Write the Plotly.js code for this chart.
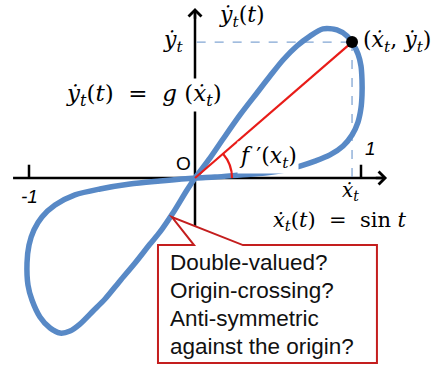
<!DOCTYPE html>
<html>
<head>
<meta charset="utf-8">
<script src="https://cdn.plot.ly/plotly-3.0.1.min.js"></script>
<style>
  html, body { margin: 0; padding: 0; background: #ffffff; }
  #chart { width: 436px; height: 367px; }
</style>
</head>
<body>
<div id="chart"></div>
<script>
// Figure-eight trajectory of (x-dot, y-dot): right lobe first, then the left lobe
const curveX = [
  0, 0.090, 0.169, 0.271, 0.373, 0.452, 0.530, 0.614, 0.693, 0.771, 0.855, 0.916, 0.952,
  0.982, 1.000, 1.006, 1.006, 1.000, 0.982, 0.946, 0.892, 0.813, 0.723, 0.633, 0.542,
  0.422, 0.271, 0.120, 0,
  -0.211, -0.392, -0.572, -0.723, -0.843, -0.922, -0.970, -1.000, -1.012, -1.006, -0.982,
  -0.934, -0.873, -0.813, -0.753, -0.693, -0.614, -0.542, -0.452, -0.361, -0.271, -0.211,
  -0.133, -0.048, 0
];
const curveY = [
  0, 0.120, 0.235, 0.380, 0.512, 0.614, 0.711, 0.795, 0.855, 0.898, 0.892, 0.855, 0.807,
  0.747, 0.675, 0.590, 0.500, 0.422, 0.337, 0.259, 0.193, 0.139, 0.102, 0.072, 0.048,
  0.030, 0.018, 0.006, 0,
  -0.018, -0.036, -0.066, -0.102, -0.163, -0.235, -0.313, -0.404, -0.512, -0.645, -0.735,
  -0.837, -0.904, -0.934, -0.922, -0.880, -0.801, -0.729, -0.620, -0.512, -0.398, -0.325,
  -0.211, -0.072, 0
];

// The highlighted state (x-dot_t, y-dot_t) on the loop
const pointX = [0.946];
const pointY = [0.819];

// Axis ticks
const tickVals = [-1, 1];
const tickLabels = ['-1', '1'];

// Callout text
const calloutLines = ['Double-valued?', 'Origin-crossing?', 'Anti-symmetric', 'against the origin?'];

const BLUE = 'rgb(88,137,198)';
const RED = 'rgb(232,28,24)';
const DASH = 'rgb(130,166,212)';
const SERIF = 'DejaVu Serif, serif';
const SANS = 'Liberation Sans, Arial, sans-serif';

const px = pointX[0], py = pointY[0];

const traces = [
  {
    x: curveX, y: curveY, type: 'scatter', mode: 'lines',
    line: {color: BLUE, width: 5.5, shape: 'spline', smoothing: 0.8},
    hoverinfo: 'skip'
  },
  {
    x: [0, px], y: [0, py], type: 'scatter', mode: 'lines',
    line: {color: RED, width: 2.2}, hoverinfo: 'skip'
  },
  {
    x: pointX, y: pointY, type: 'scatter', mode: 'markers',
    marker: {color: '#000000', size: 12}, hoverinfo: 'skip'
  }
];

// Angle arc radius (data units) and angle of the secant
const arcR = 0.223;
const th = Math.atan2(py, px);
const cx = arcR, cy = arcR * Math.tan(th / 2);
const ex = arcR * Math.cos(th), ey = arcR * Math.sin(th);

const shapes = [
  // axes
  {type: 'line', xref: 'x', yref: 'y', x0: -1.096, y0: 0, x1: 1.14, y1: 0,
   line: {color: '#000', width: 2.5}, layer: 'below'},
  {type: 'line', xref: 'x', yref: 'y', x0: 0, y0: -0.33, x1: 0, y1: 1.01,
   line: {color: '#000', width: 2.5}, layer: 'below'},
  // dashed guides to the point
  {type: 'line', xref: 'x', yref: 'y', x0: 0.01, y0: py, x1: px, y1: py,
   line: {color: DASH, width: 1.3, dash: 'dash'}, layer: 'below'},
  {type: 'line', xref: 'x', yref: 'y', x0: px, y0: py, x1: px, y1: 0,
   line: {color: DASH, width: 1.3, dash: 'dash'}, layer: 'below'},
  // angle arc
  {type: 'path', xref: 'x', yref: 'y',
   path: `M ${arcR},0 Q ${cx},${cy} ${ex},${ey}`,
   line: {color: RED, width: 2.2}, layer: 'above'},
  // callout balloon
  {type: 'path', xref: 'x', yref: 'y',
   path: 'M -0.223,-0.404 L -0.006,-0.404 L -0.139,-0.235 L 0.289,-0.404 L 1.096,-0.404 L 1.096,-1.114 L -0.223,-1.114 Z',
   fillcolor: '#ffffff', line: {color: 'rgb(196,30,30)', width: 2}, layer: 'above'}
];

tickVals.forEach(v => shapes.push({
  type: 'line', xref: 'x', yref: 'y', x0: v, y0: 0, x1: v, y1: 0.08,
  line: {color: '#000', width: 2.5}, layer: 'below'
}));

const ann = [];
// arrow heads
ann.push({x: 1.157, y: 0, ax: 1.08, ay: 0, axref: 'x', ayref: 'y', xref: 'x', yref: 'y',
  text: '', showarrow: true, arrowhead: 4, arrowwidth: 2.5, arrowsize: 1, arrowcolor: '#000', standoff: 0});
ann.push({x: 0, y: 1.024, ax: 0, ay: 0.95, axref: 'x', ayref: 'y', xref: 'x', yref: 'y',
  text: '', showarrow: true, arrowhead: 4, arrowwidth: 2.5, arrowsize: 1, arrowcolor: '#000', standoff: 0});

function label(text, x, y, opts) {
  ann.push(Object.assign({
    x: x, y: y, xref: 'x', yref: 'y', text: text, showarrow: false,
    font: {family: SERIF, size: 22, color: '#000'}
  }, opts || {}));
}

label('<i>ẏ</i><sub><i>t</i></sub>(<i>t</i>)', 0.135, 0.975, {xanchor: 'left'});
label('<i>ẏ</i><sub><i>t</i></sub>', -0.133, 0.825);
label('(<i>ẋ</i><sub><i>t</i></sub>, <i>ẏ</i><sub><i>t</i></sub>)', 1.0, 0.825, {xanchor: 'left'});
label('<i>ẏ</i><sub><i>t</i></sub>(<i>t</i>)  =  <i>g</i> (<i>ẋ</i><sub><i>t</i></sub>)', -0.79, 0.5,
  {xanchor: 'left', bgcolor: '#ffffff', font: {family: SERIF, size: 23, color: '#000'}});
label('<i>f</i> ′(<i>x</i><sub><i>t</i></sub>)', 0.25, 0.125, {xanchor: 'left', bgcolor: '#ffffff'});
label('<i>ẋ</i><sub><i>t</i></sub>', 0.934, -0.08, {font: {family: SERIF, size: 20, color: '#000'}});
label('<i>ẋ</i><sub><i>t</i></sub>(<i>t</i>)  =  sin <i>t</i>', 0.46, -0.262,
  {xanchor: 'left', font: {family: SERIF, size: 21, color: '#000'}});
label('O', -0.072, 0.09, {font: {family: SANS, size: 19, color: '#000'}});

tickVals.forEach((v, i) => {
  const up = v > 0;
  label('<i>' + tickLabels[i] + '</i>', up ? v + 0.06 : v, up ? 0.175 : -0.11,
    {font: {family: SANS, size: 19, color: '#000'}});
});

calloutLines.forEach((t, i) => {
  label(t, -0.163, -0.512 - i * 0.167, {xanchor: 'left', font: {family: SANS, size: 22.5, color: '#111'}});
});

const layout = {
  width: 436, height: 367,
  margin: {l: 0, r: 0, t: 0, b: 0},
  paper_bgcolor: '#ffffff', plot_bgcolor: '#ffffff',
  showlegend: false,
  xaxis: {range: [-1.1747, 1.4518], visible: false, fixedrange: true},
  yaxis: {range: [-1.1386, 1.0723], visible: false, fixedrange: true},
  shapes: shapes,
  annotations: ann
};

Plotly.newPlot('chart', traces, layout, {displayModeBar: false, staticPlot: true});
</script>
</body>
</html>
